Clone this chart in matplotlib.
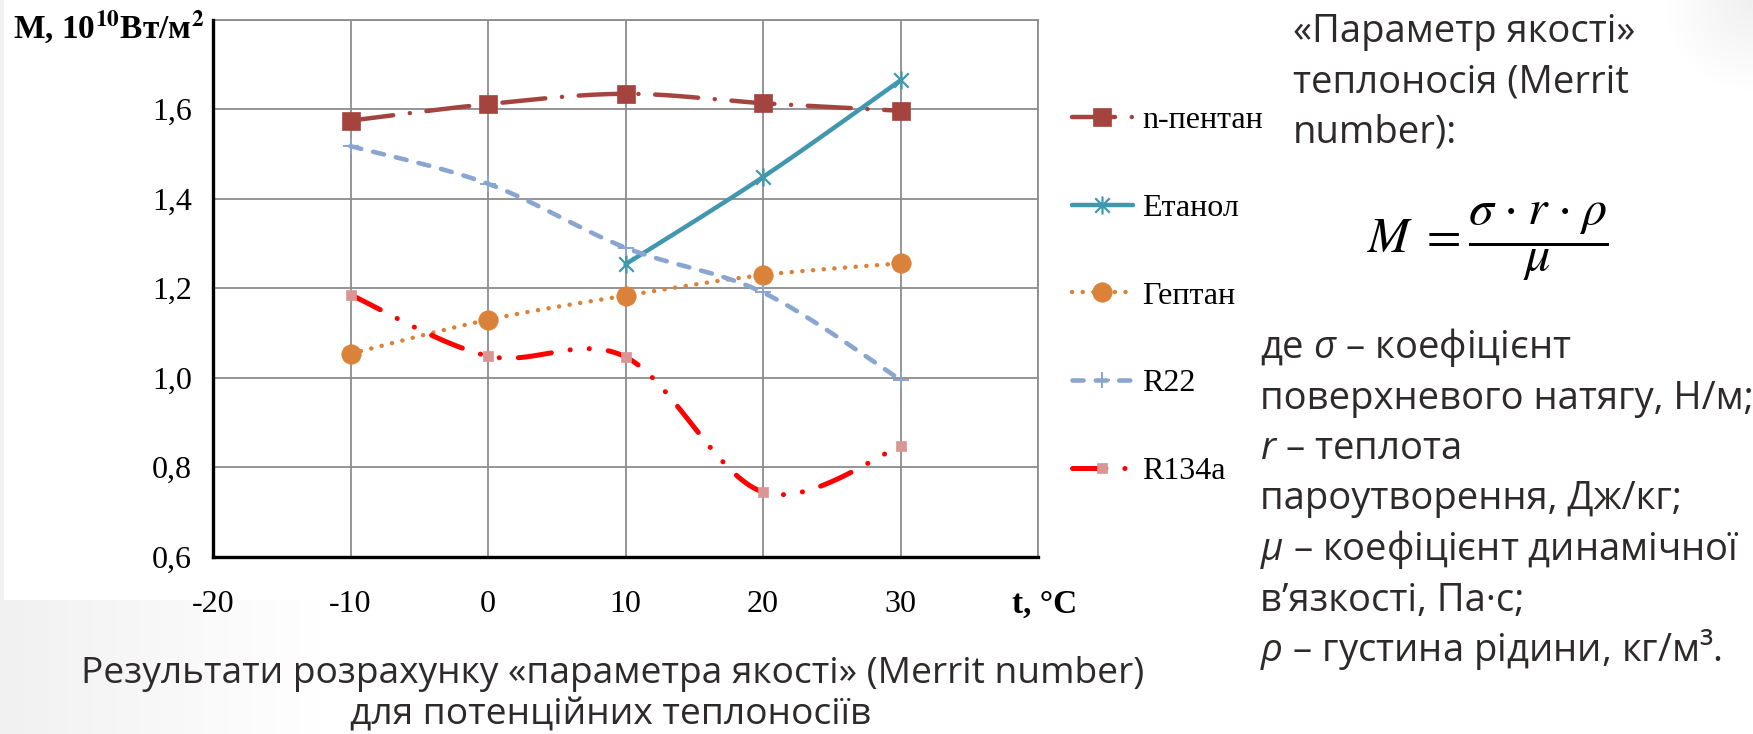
import numpy as np
import matplotlib
matplotlib.use("Agg")
import matplotlib.pyplot as plt
from matplotlib.lines import Line2D
from matplotlib.path import Path

plt.rcParams["lines.scale_dashes"] = False
plt.rcParams["mathtext.rm"] = "Open Sans"
plt.rcParams["mathtext.it"] = "Open Sans:italic"
plt.rcParams["mathtext.bf"] = "Open Sans:bold"

# ---- data -------------------------------------------------------------
temps = [-10, 0, 10, 20, 30]
pentane = [1.574, 1.611, 1.634, 1.613, 1.596]
ethanol_t = [10, 20, 30]
ethanol = [1.253, 1.448, 1.664]
heptane = [1.053, 1.129, 1.183, 1.229, 1.255]
r22 = [1.517, 1.433, 1.290, 1.190, 0.995]
r134a = [1.185, 1.048, 1.046, 0.744, 0.846]

series_names = ["n-пентан", "Етанол", "Гептан", "R22", "R134a"]

x_ticks = [-20, -10, 0, 10, 20, 30, 40]
x_tick_labels = ["-20", "-10", "0", "10", "20", "30", ""]
y_ticks = [0.6, 0.8, 1.0, 1.2, 1.4, 1.6, 1.8]
y_tick_labels = ["0,6", "0,8", "1,0", "1,2", "1,4", "1,6", ""]

W, H = 1753, 734
XLIM = (-20, 40)
YLIM = (0.6, 1.8)
AX_L, AX_R, AX_T, AX_B = 213, 1038, 19.5, 556.5

SERIF = ["Liberation Serif", "DejaVu Serif"]
SANS = ["Open Sans", "DejaVu Sans"]
TXT = "#2E2A2A"


def smooth(xs, ys, n=40):
    """Bezier smoothing of a polyline (spreadsheet-style smoothed line),
    computed in screen-proportional units."""
    sx = (AX_R - AX_L) / (XLIM[1] - XLIM[0])
    sy = (AX_B - AX_T) / (YLIM[1] - YLIM[0])
    P = np.column_stack([np.asarray(xs, float) * sx, np.asarray(ys, float) * sy])
    t = np.linspace(0, 1, n)[:, None]
    out = []
    for i in range(len(P) - 1):
        p0 = P[i - 1] if i > 0 else P[i]
        p1, p2 = P[i], P[i + 1]
        p3 = P[i + 2] if i + 2 < len(P) else P[i + 1]
        c1 = p1 + (p2 - p0) / 6.0
        c2 = p2 - (p3 - p1) / 6.0
        seg = (1 - t) ** 3 * p1 + 3 * (1 - t) ** 2 * t * c1 + 3 * (1 - t) * t ** 2 * c2 + t ** 3 * p2
        out.append(seg if i == 0 else seg[1:])
    pts = np.vstack(out)
    return pts[:, 0] / sx, pts[:, 1] / sy


star = Path([(-1, -1), (1, 1), (-1, 1), (1, -1), (0, -1.25), (0, 1.25)],
            [Path.MOVETO, Path.LINETO, Path.MOVETO, Path.LINETO, Path.MOVETO, Path.LINETO])

styles = [
    dict(color="#A5443F", lw=3.2, dashes=(31, 12, 0.1, 12),
         marker="s", ms=13, mfc="#A5443F", mec="#A5443F", mew=0.5),
    dict(color="#4197AE", lw=3.2, dashes=None,
         marker=star, ms=13, mfc="none", mec="#4197AE", mew=1.6),
    dict(color="#DA8239", lw=3.2, dashes=(0.1, 7.6),
         marker="o", ms=14, mfc="#DA8239", mec="#DA8239", mew=0.5),
    dict(color="#8AA5D0", lw=3.3, dashes=(8.0, 8.8),
         marker="+", ms=12, mfc="none", mec="#8AA5D0", mew=1.4),
    dict(color="#FF0000", lw=3.6, dashes=(24, 13.7, 0.1, 13.7, 0.1, 13.7),
         marker="s", ms=6.5, mfc="#D99694", mec="#D99694", mew=0.5),
]
series_x = [temps, ethanol_t, temps, temps, temps]
series_y = [pentane, ethanol, heptane, r22, r134a]

# ---- figure -----------------------------------------------------------
fig = plt.figure(figsize=(W / 100, H / 100), dpi=100)

# slide background: faint grey shading at the left edge and top-right corner
xx, yy = np.meshgrid(np.arange(W), np.arange(H))
shade = 0.055 * np.clip(1 - xx / 320.0, 0, 1)
corner = 0.06 * np.clip(1 - np.hypot(xx - W, yy) / 90.0, 0, 1)
bg = 1 - shade - corner
chart_box = (xx >= 4) & (xx < 1250) & (yy < 600)
bg[chart_box] = 1.0
fig.figimage(np.dstack([bg, bg, bg]), xo=0, yo=0, origin="upper", zorder=-10)

ax = fig.add_axes([AX_L / W, 1 - AX_B / H, (AX_R - AX_L) / W, (AX_B - AX_T) / H])
ax.set_xlim(*XLIM)
ax.set_ylim(*YLIM)
ax.set_xticks(x_ticks)
ax.set_xticklabels(x_tick_labels, fontfamily=SERIF, fontsize=23)
ax.set_yticks(y_ticks)
ax.set_yticklabels(y_tick_labels, fontfamily=SERIF, fontsize=23)
ax.tick_params(length=0)
ax.tick_params(axis="y", pad=15)
ax.tick_params(axis="x", pad=24)
ax.grid(True, color="#8C8C8C", lw=1.3)
ax.set_axisbelow(True)
for s in ("left", "bottom"):
    ax.spines[s].set_linewidth(2.4)
    ax.spines[s].set_color("black")
    ax.spines[s].set_zorder(5)
for s in ("top", "right"):
    ax.spines[s].set_linewidth(1.3)
    ax.spines[s].set_color("#8C8C8C")

handles = []
for xs, ys, st, name in zip(series_x, series_y, styles, series_names):
    cx, cy = smooth(xs, ys)
    line_kw = dict(color=st["color"], lw=st["lw"], solid_capstyle="round", dash_capstyle="round")
    if st["dashes"] is not None:
        line_kw["dashes"] = st["dashes"]
    ax.plot(cx, cy, zorder=3, **line_kw)
    mk_kw = dict(marker=st["marker"], ms=st["ms"], mfc=st["mfc"], mec=st["mec"], mew=st["mew"])
    ax.plot(xs, ys, ls="none", zorder=4, **mk_kw)
    handles.append(Line2D([], [], **line_kw, **mk_kw))

ax.legend(handles, series_names, loc="center left",
          bbox_to_anchor=(1072 / W, 1 - 296 / H), bbox_transform=fig.transFigure,
          frameon=False, prop={"family": SERIF, "size": 23},
          handlelength=1.9, handletextpad=0.3, labelspacing=1.83,
          borderpad=0, borderaxespad=0, numpoints=1)

# axis titles
fig.text(13 / W, 1 - 39 / H, r"M, 10$^{\mathbf{10}}$Вт/м$^{\mathbf{2}}$",
         fontfamily=SERIF, fontweight="bold", fontsize=24, math_fontfamily="stix",
         va="baseline", ha="left")
fig.text(1045 / W, 1 - 604 / H, "t, °C", fontfamily=SERIF, fontweight="bold",
         fontsize=24, ha="center", va="center")

# caption under the chart
fig.text(613 / W, 1 - 683 / H, "Результати розрахунку «параметра якості» (Merrit number)",
         fontfamily=SANS, fontsize=26.7, color=TXT, ha="center", va="baseline")
fig.text(611 / W, 1 - 724 / H, "для потенційних теплоносіїв",
         fontfamily=SANS, fontsize=26.7, color=TXT, ha="center", va="baseline")

# definition block on the right
head_lines = ["«Параметр якості»", "теплоносія (Merrit", "number):"]
for i, s in enumerate(head_lines):
    fig.text(1293 / W, 1 - (42 + 50 * i) / H, s, fontfamily=SANS, fontsize=27.5,
             color=TXT, ha="left", va="baseline")

fig.text(1488 / W, 1 - 242 / H,
         r"$M\;=\dfrac{\sigma\hspace{0.08}\cdot\hspace{0.08}r\hspace{0.08}\cdot\hspace{0.08}\rho}{\mu}$",
         math_fontfamily="stix", fontsize=36, ha="center", va="center", color="black")

body_lines = [
    r"де $\sigma$ – коефіцієнт",
    "поверхневого натягу, Н/м;",
    r"$r$ – теплота",
    "пароутворення, Дж/кг;",
    r"$\mu$ – коефіцієнт динамічної",
    "в’язкості, Па·с;",
    r"$\rho$ – густина рідини, кг/м³.",
]
for i, s in enumerate(body_lines):
    fig.text(1260 / W, 1 - (358 + 50.5 * i) / H, s, fontfamily=SANS, fontsize=27.5,
             color=TXT, ha="left", va="baseline", math_fontfamily="custom")

fig.savefig("out.png", dpi=100)
